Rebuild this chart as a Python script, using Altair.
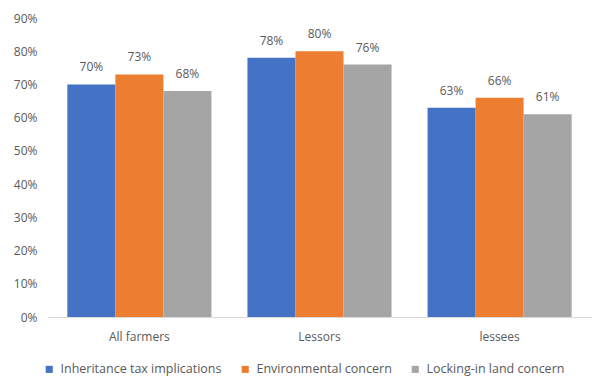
import altair as alt
import pandas as pd

groups = ["All farmers", "Lessors", "lessees"]
series = ["Inheritance tax implications", "Environmental concern", "Locking-in land concern"]
colors = ["#4472C4", "#ED7D31", "#A5A5A5"]
values = {
    "Inheritance tax implications": [70, 78, 63],
    "Environmental concern": [73, 80, 66],
    "Locking-in land concern": [68, 76, 61],
}
y_ticks = [0, 10, 20, 30, 40, 50, 60, 70, 80, 90]

rows = []
for s in series:
    for g, v in zip(groups, values[s]):
        rows.append({"group": g, "series": s, "value": v / 100, "label": f"{v}%"})
df = pd.DataFrame(rows)

FONT = "Open Sans"
TXT = "#595959"

base = alt.Chart(df).encode(
    x=alt.X("group:N", sort=groups, title=None,
            scale=alt.Scale(paddingInner=0.2, paddingOuter=0.113),
            axis=alt.Axis(labelAngle=0, ticks=False, domainColor="#D9D9D9",
                          labelColor=TXT, labelFont=FONT, labelFontSize=12,
                          labelPadding=14)),
    xOffset=alt.XOffset("series:N", sort=series),
    y=alt.Y("value:Q", title=None,
            scale=alt.Scale(domain=[0, 0.9], nice=False),
            axis=alt.Axis(format=".0%", values=[t / 100 for t in y_ticks],
                          grid=False, domain=False, ticks=False,
                          labelOverlap=False,
                          labelColor=TXT, labelFont=FONT, labelFontSize=12,
                          labelPadding=10)),
)

bars = base.mark_bar().encode(
    color=alt.Color("series:N", sort=series,
                    scale=alt.Scale(domain=series, range=colors),
                    legend=alt.Legend(orient="none", direction="horizontal",
                                      legendX=-4, legendY=345, title=None,
                                      padding=0, labelLimit=300,
                                      symbolType="square", symbolSize=50,
                                      symbolStrokeWidth=0, labelOffset=5,
                                      labelColor=TXT, labelFont=FONT,
                                      labelFontSize=12.5, columnPadding=17)),
)

labels = base.mark_text(baseline="bottom", dy=-10, font=FONT, fontSize=12,
                        color=TXT).encode(
    text="label:N",
)

chart = (bars + labels).properties(
    width=545, height=299,
    autosize=alt.AutoSizeParams(type="none"),
    padding={"left": 47, "top": 18, "right": 3, "bottom": 64},
).configure_view(stroke=None)

chart.save("out.html", embed_options={"renderer": "svg", "actions": False})
